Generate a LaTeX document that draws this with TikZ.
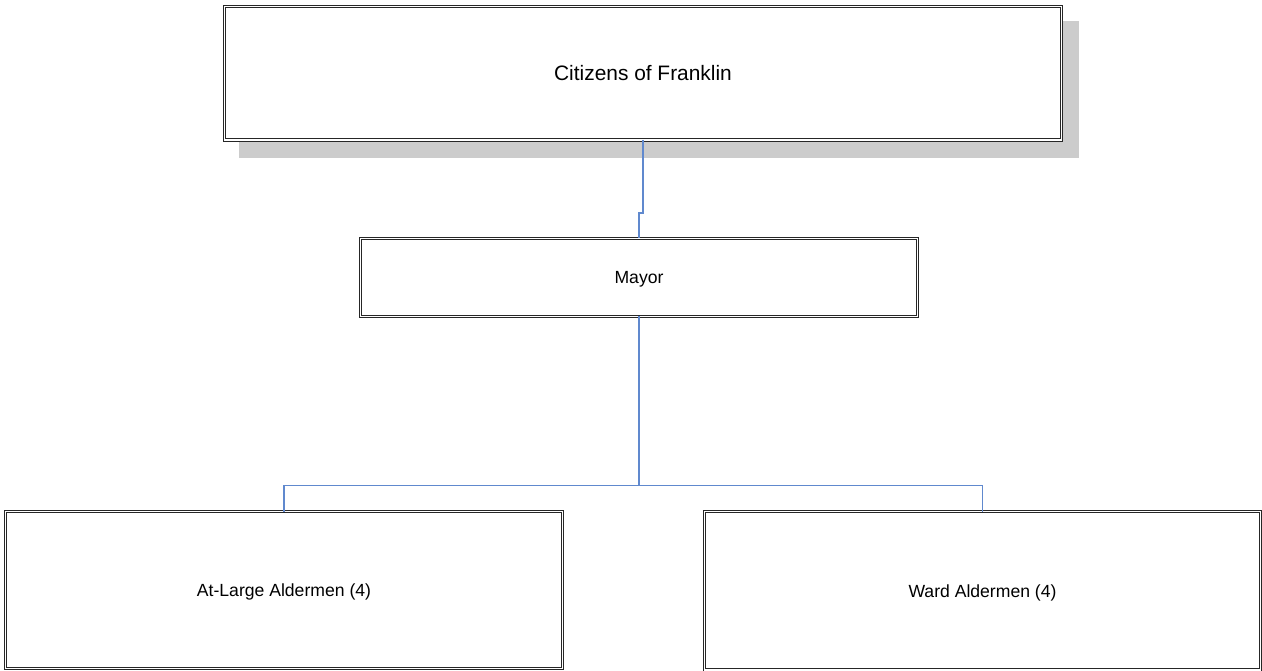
\documentclass[tikz,border=0pt]{standalone}
\usepackage{fontspec}
\setmainfont{Liberation Sans}
\begin{document}
\begin{tikzpicture}[x=1pt,y=-1pt,
  orgbox/.style={draw=black!85, double=white, double distance=1.6pt, line width=1pt,
    fill=white, rectangle, inner sep=0pt, outer sep=0pt, text=black, text depth=0pt,
    font=\fontsize{17.6}{20}\selectfont},
  link/.style={draw=linkblue, line width=1.1pt}]
\definecolor{linkblue}{RGB}{96,137,206}
\useasboundingbox (0,0) rectangle (1262,671);
% drop shadow of the top box
\fill[black!20] (239,21) rectangle (1079,158);
% boxes of the organisation chart
\node[orgbox, minimum width=837pt, minimum height=133.5pt,
      font=\fontsize{20.9}{24}\selectfont] (cit) at (643,73.25) {Citizens of Franklin};
\node[orgbox, minimum width=557pt, minimum height=78pt] (may) at (639,277.5) {Mayor};
\node[orgbox, minimum width=557pt, minimum height=157pt] (atl) at (284,590) {At-Large Aldermen (4)};
\node[orgbox, minimum width=556pt, minimum height=158.5pt] (ward) at (982.5,590.75) {Ward Aldermen (4)};
% connectors
\coordinate (jog) at (0,213);
\coordinate (bus) at (0,485.5);
\draw[link] (cit.south) -- (cit.south |- jog) -- (may.north |- jog) -- (may.north);
\draw[link] (may.south) -- (may.south |- bus);
\draw[link] (atl.north) |- (may.south |- bus) -| (ward.north);
\end{tikzpicture}
\end{document}
